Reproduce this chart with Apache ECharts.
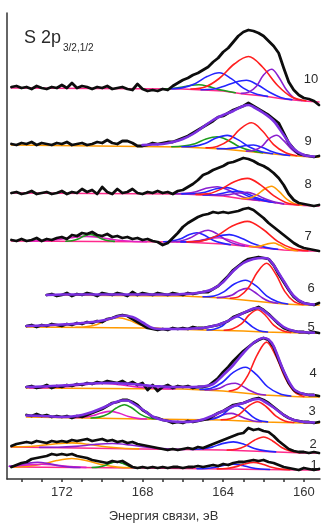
<!DOCTYPE html>
<html><head><meta charset="utf-8">
<script src="https://cdn.jsdelivr.net/npm/echarts@6/dist/echarts.min.js"></script>
<style>html,body{margin:0;padding:0;background:#fff}#c{width:329px;height:531px}</style>
</head><body><div id="c"></div>
<script>
// Binding energy grid (eV) for measured spectra
const energy = [174.5,174.25,174,173.75,173.5,173.25,173,172.75,172.5,172.25,
172,171.75,171.5,171.25,171,170.75,170.5,170.25,170,169.75,
169.5,169.25,169,168.75,168.5,168.25,168,167.75,167.5,167.25,
167,166.75,166.5,166.25,166,165.75,165.5,165.25,165,164.75,
164.5,164.25,164,163.75,163.5,163.25,163,162.75,162.5,162.25,
162,161.75,161.5,161.25,161,160.75,160.5,160.25,160,159.75,
159.5,159.25];
const xTickValues = [160,161,162,163,164,165,166,167,168,169,170,171,172,173,174];
const xLabelValues = [160,164,168,172];
const spectrumLabels = ['1','2','3','4','5','6','7','8','9','10'];
// vertical stacking offsets of spectra 1..10 (intensity units)
const offsets = [9,26,56,82,146,174,228,273,322,377];

// measured spectra (intensity above own offset)
const s10 = [15,16,14,15,13,16,14,13,15,14, 17,14,19,14,16,15,13,15,14,16, 13,14,15,13,12,18,13,11,12,11, 13,12,16,19,22,24,27,29,32,35, 40,44,50,54,60,66,70,72,71,69, 66,61,56,49,34,20,12,7,4,3, 1,-3];
const s9 = [13,12,14,13,15,12,14,13,12,14, 13,15,12,13,14,12,13,15,14,17, 14,13,16,16,14,11,11,12,14,13, 14,15,15,17,19,21,24,27,30,33, 36,40,41,44,47,49,51,54,51,48, 45,42,38,34,24,14,8,3,2,1, 0,1];
const s8 = [13,14,12,13,15,12,13,14,12,13, 15,12,14,13,17,14,16,12,19,14, 12,17,13,14,17,13,12,14,13,15, 13,14,12,15,16,19,22,26,31,33, 36,38,40,43,44,46,48,47,45,42, 40,37,33,28,21,12,6,3,2,1, 0,1];
const s7 = [11,10,12,10,11,13,10,12,11,13, 14,12,16,15,18,17,19,16,15,17, 14,15,13,14,12,13,11,12,10,9, 6,8,13,18,24,28,31,34,36,37, 39,38,39,38,39,40,42,43,41,37, 33,28,24,20,16,12,8,5,3,2, 1,0];
const s6 = [null,null,null,null,null,null,null,10,11,9, 10,12,9,11,10,12,11,9,12,11, 10,12,11,9,13,10,12,11,10,12, 11,10,12,11,10,12,11,12,13,13, 16,19,24,29,35,39,43,46,47,48, 47,46,40,31,23,15,8,4,2,1, 0,2];
const s5 = [null,null,null,7,8,6,8,7,9,8, 7,9,8,10,9,11,10,12,11,14, 15,17,18,17,14,11,8,5,4,3, 4,3,5,4,5,4,6,5,5,6, 7,8,10,12,16,18,20,22,24,26, 23,19,14,9,5,3,2,1,1,0, 1,0];
const s4 = [null,null,null,10,11,9,10,12,9,11, 10,12,11,13,12,14,13,15,14,16, 15,14,16,13,15,12,14,7,12,6, 10,12,9,11,10,11,9,10,10,11, 15,19,25,30,36,41,46,50,54,57, 59,57,50,37,25,14,7,4,3,2, 2,1];
const s3 = [null,null,null,8,7,9,7,8,6,7, 6,7,5,7,6,8,10,12,14,17, 20,21,23,23,21,18,13,10,6,5, 3,2,0,1,0,2,1,2,3,4, 7,10,12,15,18,19,20,22,24,25, 23,20,16,12,8,5,3,2,1,1, 0,1];
const s2 = [7,9,10,11,10,12,11,10,12,11, 12,11,13,12,13,14,12,13,14,12, 13,11,12,10,11,9,8,7,6,5, 4,3,4,3,4,5,4,6,5,7, 9,11,13,15,17,19,20,25,23,24, 22,21,17,12,8,4,2,1,1,0, 1,0];
const s1 = [3,5,7,8,11,12,13,14,16,15, 16,15,16,14,13,12,10,9,8,7, 9,8,9,6,3,2,3,2,3,2, 3,2,3,3,2,3,3,4,3,4, 5,4,6,5,7,8,8,9,10,9, 10,8,7,5,3,2,1,0,2,1, 0,1];

// backgrounds [eV, intensity]
const bg10 = [[174.5,14],[166,13],[164,11],[163,8],[162,6],[161,3],[160,1],[159.25,0]];
const bg9 = [[174.5,12],[166,10],[164,8],[163,6],[162,4],[161,2],[160,0.5],[159.25,0]];
const bg8 = [[174.5,13],[166,12],[164,10],[163,7],[162,5],[161,2],[160,0.5],[159.25,0]];
const bg7 = [[174.5,10],[166,9],[164,7],[163,5],[162,3],[161,1],[160,0],[159.25,0]];
const bg6 = [[172.75,10],[166,9],[164,7],[163,5],[162,3],[161,1],[160,0],[159.25,0]];
const bg5 = [[173.75,6],[168,5],[165,3],[163,2],[162,1],[160,0],[159.25,0]];
const bg4 = [[173.75,9],[166,8],[164,6],[163,4],[162,2],[161,1],[160,0],[159.25,0]];
const bg3 = [[173.75,6],[168,4],[164,3],[162,1],[160,0],[159.25,0]];
const bg2 = [[174.5,6],[168,4],[164,3],[162,1.5],[160,0],[159.25,0]];
const bg1 = [[174.5,3],[168,2],[164,1],[160,0],[159.25,0]];

// fit envelopes
const env9 = [[168,12],[167.5,12.5],[167,13],[166.5,15],[166,18],[165.5,23],[165,30],[164.5,37],[164,42],[163.5,46],[163,51],[162.75,52],[162.5,50],[162,44],[161.5,36],[161,22],[160.5,8],[160,2],[159.5,0.5]];
const env6 = [[172.75,10],[172,10.5],[171,10.5],[170,10.5],[169,10.5],[168,10.5],[167,10.5],[166.5,10.5],[166,11],[165.5,11.5],[165,13],[164.5,16],[164,23],[163.5,34],[163,42],[162.5,46],[162,47],[161.75,46],[161.5,40],[161,24],[160.5,9],[160,2],[159.5,0.5]];
const env5 = [[173.75,7],[173,7.5],[172.5,8],[172,8.5],[171.5,9],[171,10],[170.5,11],[170,12.5],[169.5,15],[169,17.5],[168.5,16],[168,10.5],[167.5,5],[167,4],[166.5,4],[166,4],[165.5,4.5],[165,5],[164.5,7],[164,10],[163.5,15],[163,20],[162.5,24.5],[162.25,25],[162,22.5],[161.5,14],[161,6],[160.5,2],[160,0.7],[159.5,0.3]];
const env4 = [[173.75,10],[173,10.5],[172.5,11],[172,11.5],[171.5,12],[171,13],[170.5,13.5],[170,14],[169.5,14],[169,13.5],[168.5,13],[168,12],[167.5,11],[167,10.5],[166.5,10],[166,10],[165.5,10],[165,10.5],[164.5,13],[164,22],[163.5,32],[163,44],[162.5,54],[162,59],[161.75,57.5],[161.5,51],[161,26],[160.5,8],[160,3],[159.5,2]];
const env3 = [[173.75,7.5],[173,7],[172.5,6.5],[172,6],[171.5,6.5],[171,8],[170.5,11],[170,15],[169.5,19.5],[169,22.5],[168.75,22.5],[168.5,20],[168,13.5],[167.5,6.5],[167,3],[166.5,1.5],[166,1],[165.5,1.5],[165,3.5],[164.5,7.5],[164,12],[163.5,17],[163,20],[162.5,23.5],[162.25,24],[162,22],[161.5,15.5],[161,8],[160.5,3],[160,1],[159.5,0.5]];

// fitted components [eV, intensity]
const c10Red = [[165.6,13],[164.9,15],[164.2,23.5],[163.45,38],[162.75,45.5],[162.05,35],[161.3,16.5],[160.6,5],[159.9,1.3]];
const c10Violet = [[163.1,8.6],[162.75,9.7],[162.35,15.8],[162,27],[161.6,32.8],[161.25,25],[160.85,11.7],[160.5,4.2],[160.1,1.5]];
const c10Blue1 = [[166.6,13.3],[166,14.4],[165.4,18.3],[164.8,25.4],[164.2,29.2],[163.6,23.4],[163,13.9],[162.4,8.2],[161.8,5.6]];
const c10Blue2 = [[165.1,12.3],[164.55,12.7],[164,15.6],[163.4,19.8],[162.85,21.7],[162.3,17.2],[161.7,9.7],[161.15,4.6],[160.6,2.4]];
const c10Green = [[167,13.3],[166.55,13.5],[166.1,14.6],[165.65,16.5],[165.2,17.2],[164.75,15.6],[164.3,12.9],[163.85,11],[163.4,9.3]];

const c9Red = [[164.85,9.2],[164.3,10.6],[163.7,16.8],[163.15,28.2],[162.6,34.2],[162.05,26],[161.5,12.4],[160.9,4.2],[160.35,1.3]];
const c9Violet = [[162.85,5.9],[162.5,6.5],[162.1,10.4],[161.75,17.8],[161.35,21.7],[161,16.3],[160.6,7.6],[160.25,2.4],[159.85,0.6]];
const c9Green = [[166.55,10.2],[166,11],[165.4,13.3],[164.85,18],[164.3,20.3],[163.75,16.6],[163.2,10.3],[162.6,6.2],[162.05,4.2]];
const c9Blue1 = [[166.05,10.2],[165.5,10.6],[164.9,13.5],[164.35,19],[163.8,21.6],[163.25,17.1],[162.7,10],[162.1,5.3],[161.55,3.3]];
const c9Blue2 = [[164.3,8.4],[163.85,8.3],[163.4,9.1],[162.95,11.2],[162.5,12],[162.05,9.4],[161.6,5.5],[161.15,2.9],[160.7,1.6]];

const c8Red = [[165.35,11.6],[164.7,12.4],[164.1,16.9],[163.45,24.3],[162.8,27.6],[162.15,21.2],[161.5,10.3],[160.9,3.6],[160.25,1.1]];
const c8Orange = [[163.1,7.5],[162.75,7.8],[162.35,10.9],[161.95,17],[161.6,19.8],[161.25,14.9],[160.85,6.9],[160.5,2.6],[160.1,0.8]];
const c8Blue1 = [[166.05,12.1],[165.5,12.2],[164.9,13.8],[164.35,17.2],[163.8,18.4],[163.25,14.6],[162.7,9.3],[162.1,5.9],[161.55,3.75]];
const c8Blue2 = [[165,11.1],[164.55,11.1],[164.1,12.4],[163.65,14.3],[163.2,14.6],[162.75,11.8],[162.3,7.9],[161.85,5.1],[161.4,3.3]];
const c8Violet1 = [[166.4,12.2],[165.9,12.6],[165.35,14.3],[164.85,17.7],[164.3,19.3],[163.75,16],[163.25,10.7],[162.7,7.1],[162.2,5.5]];
const c8Violet2 = [[164.6,10.7],[164.15,10.7],[163.7,11.4],[163.25,13],[162.8,13.6],[162.35,11],[161.9,7],[161.45,3.9],[161,2.1]];

const c7Red = [[165.8,9.1],[165.05,10.1],[164.3,15.4],[163.55,25],[162.8,29.6],[162.05,22],[161.3,9.7],[160.55,2.6],[159.8,0.3]];
const c7Violet = [[166.55,9.2],[166.1,10],[165.65,12.9],[165.2,18],[164.75,20.8],[164.3,17.1],[163.85,10.9],[163.4,6.9],[162.95,5]];
const c7Blue1 = [[166.95,9.2],[166.55,9.85],[166.1,12.25],[165.7,16.25],[165.3,18.3],[164.9,15.45],[164.5,10.75],[164.05,7.85],[163.65,6.4]];
const c7Blue2 = [[166.1,9.1],[165.5,9.3],[164.9,11.15],[164.3,14.85],[163.7,16.4],[163.1,12.75],[162.5,7.25],[161.9,3.6],[161.3,1.7]];
const c7Magenta = [[166.3,9.1],[165.8,9.3],[165.25,10.2],[164.75,12.25],[164.2,13.2],[163.65,10.8],[163.15,7.25],[162.6,4.7],[162.1,3.3]];
const c7Orange = [[162.7,4.5],[162.4,4.3],[162.1,5.15],[161.8,7.1],[161.5,8],[161.2,5.9],[160.9,2.85],[160.6,1.1],[160.3,0.4]];
const c7Hump = [[173.8,10],[173.05,10.2],[172.3,11.3],[171.55,13.4],[170.8,14.6],[170.05,13.3],[169.3,11],[168.55,9.7],[167.8,9.3]];
const c7Green = [[171.8,9.7],[171.5,10.2],[171.2,11.9],[170.9,14.9],[170.6,16.6],[170.3,14.9],[170,11.9],[169.7,10.2],[169.4,9.6]];

const c6Red = [[163.65,6.7],[163.2,8.6],[162.75,17.2],[162.3,33],[161.85,41.7],[161.4,31.2],[160.95,13.65],[160.5,3.7],[160.05,0.5]];
const c6Blue = [[165,8.2],[164.45,9.05],[163.95,13.4],[163.45,21],[162.9,24.8],[162.35,18.8],[161.85,9.2],[161.3,3.2],[160.8,1]];
const c6Violet = [[164.3,7.4],[163.95,7.9],[163.55,10],[163.2,14.5],[162.8,16.6],[162.45,13],[162.05,7],[161.7,3.4],[161.3,1.7]];

const c5Red = [[163.95,2.7],[163.55,4.1],[163.1,9.1],[162.7,18.3],[162.3,23.3],[161.9,17.5],[161.5,7.95],[161.05,2.3],[160.65,0.5]];
const c5Blue = [[164.8,3],[164.45,3.8],[164.05,7],[163.7,13],[163.3,16.2],[162.95,12.5],[162.55,6.1],[162.2,2.3],[161.8,1]];
const c5Orange = [[171.3,5.7],[170.8,6.3],[170.25,8.6],[169.75,12.9],[169.2,15.2],[168.65,12.7],[168.15,8.3],[167.6,5.5],[167.1,4.5]];

const c4Red = [[163.7,6],[163.25,8.8],[162.8,20.8],[162.3,42.6],[161.85,54.9],[161.4,41.4],[160.9,18.1],[160.45,4.75],[160,0.6]];
const c4Blue = [[165.15,7.5],[164.6,8.7],[164.05,14.5],[163.5,24.6],[162.9,29.8],[162.35,22.3],[161.8,10.25],[161.2,3.3],[160.65,0.95]];
const c4Violet = [[164.9,7],[164.55,7.25],[164.15,9.05],[163.8,12.4],[163.4,13.8],[163.05,10.9],[162.65,6.2],[162.3,3.3],[161.9,2]];
const c4Magenta = [[173.6,9],[172.7,9.3],[171.8,10.35],[170.9,12.4],[170,13.5],[169.1,12.2],[168.2,9.9],[167.3,8.6],[166.4,8.1]];

const c3Green = [[170.55,5],[170.15,5.85],[169.7,9.15],[169.3,15],[168.9,18.3],[168.5,14.8],[168.1,8.6],[167.65,5],[167.25,4]];
const c3Magenta = [[171.4,5.3],[170.95,5.7],[170.5,7.2],[170.05,10],[169.6,11.6],[169.15,9.7],[168.7,6.55],[168.25,4.65],[167.8,4]];
const c3Red = [[164.1,3.2],[163.65,4.25],[163.2,8.7],[162.75,16.85],[162.3,21.3],[161.85,16],[161.4,7.2],[160.95,2.1],[160.5,0.5]];
const c3Blue = [[164.8,3.4],[164.45,4.3],[164.05,7.9],[163.7,14],[163.3,17.3],[162.95,13.25],[162.55,6.45],[162.2,2.4],[161.8,1.1]];
const c3Violet = [[165.1,3.4],[164.75,3.75],[164.35,5.4],[164,8.3],[163.6,9.6],[163.25,7.55],[162.85,4.15],[162.5,2.05],[162.1,1.2]];

const c2Red = [[163.8,3],[163.35,3.7],[162.9,6.9],[162.45,12.75],[162,16],[161.55,12.05],[161.1,5.5],[160.65,1.7],[160.2,0.3]];
const c2Blue = [[165.6,3.5],[165.1,4],[164.55,5.9],[164.05,9.4],[163.5,11.1],[162.95,8.6],[162.45,4.6],[161.9,2.1],[161.4,1.15]];
const c2Violet = [[173.1,5.6],[172.2,5.7],[171.3,6.6],[170.4,8.5],[169.5,9.5],[168.6,8],[167.7,5.5],[166.8,4.1],[165.9,3.5]];
const c2Orange = [[174.5,6.1],[173.95,6.2],[173.15,7.2],[172.3,9.2],[171.5,10.1],[170.7,8.7],[169.85,6.2],[169,4.7],[168.2,4.1]];

const c1Orange = [[174.5,3.1],[173.75,3.6],[173,5.7],[172.25,9.45],[171.5,11.5],[170.75,9.2],[170,5.2],[169.25,2.9],[168.5,2.2]];
const c1Violet = [[174.6,3.7],[174.25,4.6],[173.75,6.5],[173.2,7.8],[172.65,6.4],[172.15,4.3],[171.6,2.9],[171.1,2.5]];
const c1Magenta = [[174.6,3.6],[174,4.5],[173.5,5.4],[173,5.8],[172.5,5.3],[172,4.2],[171.4,3.1],[170.8,2.6]];
const c1Green = [[170.5,2.45],[170.2,2.85],[169.9,4.25],[169.6,6.75],[169.3,8.2],[169,6.65],[168.7,4.05],[168.4,2.55],[168.1,2.1]];
const c1Blue = [[165.3,1.4],[164.85,1.6],[164.4,2.7],[163.95,4.8],[163.5,5.9],[163.05,4.55],[162.6,2.25],[162.15,0.95],[161.7,0.5]];
const c1Red = [[164.3,1.15],[163.85,1.5],[163.4,3.15],[162.95,6],[162.5,7.6],[162.05,5.8],[161.6,2.7],[161.15,0.85],[160.7,0.25]];

// ---------- styles & assembly ----------
const COL = {red:'#ff1f1f', blue:'#2424ff', violet:'#8a1fcf', green:'#1c9c1c', orange:'#ff9a00',
  magenta:'#e21fc4', pink:'#ff2a8c', env:'#7a2fe0', data:'#0d0d0d'};

const spectra = [
  {raw:s1, bg:bg1, bgc:'pink', comps:[[c1Orange,'orange'],[c1Magenta,'magenta'],[c1Violet,'violet'],[c1Green,'green'],[c1Blue,'blue'],[c1Red,'red']], env:null},
  {raw:s2, bg:bg2, bgc:'pink', comps:[[c2Orange,'orange'],[c2Violet,'violet'],[c2Blue,'blue'],[c2Red,'red']], env:null},
  {raw:s3, bg:bg3, bgc:'orange', comps:[[c3Magenta,'magenta'],[c3Green,'green'],[c3Violet,'violet'],[c3Blue,'blue'],[c3Red,'red']], env:env3},
  {raw:s4, bg:bg4, bgc:'orange', comps:[[c4Magenta,'magenta'],[c4Violet,'violet'],[c4Blue,'blue'],[c4Red,'red']], env:env4},
  {raw:s5, bg:bg5, bgc:'orange', comps:[[c5Orange,'orange'],[c5Blue,'blue'],[c5Red,'red']], env:env5},
  {raw:s6, bg:bg6, bgc:'orange', comps:[[c6Violet,'violet'],[c6Blue,'blue'],[c6Red,'red']], env:env6},
  {raw:s7, bg:bg7, bgc:'pink', comps:[[c7Hump,'magenta'],[c7Green,'green'],[c7Magenta,'magenta'],[c7Blue1,'blue'],[c7Violet,'violet'],[c7Blue2,'blue'],[c7Orange,'orange'],[c7Red,'red']], env:null},
  {raw:s8, bg:bg8, bgc:'pink', comps:[[c8Violet1,'violet'],[c8Blue1,'blue'],[c8Blue2,'blue'],[c8Violet2,'violet'],[c8Orange,'orange'],[c8Red,'red']], env:null},
  {raw:s9, bg:bg9, bgc:'orange', comps:[[c9Green,'green'],[c9Blue1,'blue'],[c9Blue2,'blue'],[c9Violet,'violet'],[c9Red,'red']], env:env9},
  {raw:s10, bg:bg10, bgc:'pink', comps:[[c10Green,'green'],[c10Blue1,'blue'],[c10Blue2,'blue'],[c10Violet,'violet'],[c10Red,'red']], env:null}
];

function shift(pairs, off){ return pairs.map(p => [p[0], p[1] + off]); }
function rawPairs(vals, off){
  const out = [];
  energy.forEach((e,i) => { if (vals[i] !== null) out.push([e, vals[i] + off]); });
  return out;
}
function line(data, color, width, smooth){
  return {type:'line', data, smooth: smooth ? 0.35 : false, showSymbol:false, symbol:'none',
    silent:true, animation:false, lineStyle:{color, width, join:'round', cap:'round'}};
}

const series = [];
spectra.forEach((sp, k) => {
  const off = offsets[k];
  series.push(line(shift(sp.bg, off), COL[sp.bgc], 1.7, false));
  sp.comps.forEach(([d, c]) => series.push(line(shift(d, off), COL[c], 1.6, true)));
  series.push(line(rawPairs(sp.raw, off), COL.data, 2.8, false));
  if (sp.env) series.push(line(shift(sp.env, off), COL.env, 2.6, true));
});

// label placement (pixels) for spectrum numbers 1..10
const labelXY = [[314,465],[313,444],[312,411],[313,373],[311,327],[311,288],[308,236],[308,184],[308,141],[311,79]];
const graphic = spectrumLabels.map((t, k) => ({
  type:'text', x: labelXY[k][0], y: labelXY[k][1],
  style:{text:t, fontSize:13, fill:'#2a2a2a', fontFamily:'Liberation Sans, Arial, sans-serif', align:'center', verticalAlign:'middle'}
}));
graphic.push({type:'text', x:24, y:29, style:{text:'S 2p', fontSize:18, fill:'#2a2a2a', fontFamily:'Liberation Sans, Arial, sans-serif'}});
graphic.push({type:'text', x:63, y:43, style:{text:'3/2,1/2', fontSize:10, fill:'#2a2a2a', fontFamily:'Liberation Sans, Arial, sans-serif'}});

const chart = echarts.init(document.getElementById('c'), null, {renderer:'canvas'});
chart.setOption({
  animation:false,
  backgroundColor:'#ffffff',
  grid:{left:7, right:9, top:13, bottom:52, containLabel:false},
  xAxis:{
    type:'value', inverse:true, min:159.2, max:174.72,
    axisLine:{show:true, onZero:false, lineStyle:{color:'#333', width:1.5}},
    axisTick:{show:true, customValues:xTickValues, length:3, lineStyle:{color:'#333', width:1.5}},
    axisLabel:{customValues:xLabelValues, color:'#333', fontSize:13, margin:7, fontFamily:'Liberation Sans, Arial, sans-serif'},
    splitLine:{show:false},
    name:'Энергия связи, эВ', nameLocation:'middle', nameGap:31,
    nameTextStyle:{fontSize:13, color:'#333', fontFamily:'Liberation Sans, Arial, sans-serif'}
  },
  yAxis:{
    type:'value', min:0, max:466,
    axisLine:{show:true, onZero:false, lineStyle:{color:'#333', width:1.5}},
    axisTick:{show:false}, axisLabel:{show:false}, splitLine:{show:false}
  },
  graphic,
  series
});
</script></body></html>
